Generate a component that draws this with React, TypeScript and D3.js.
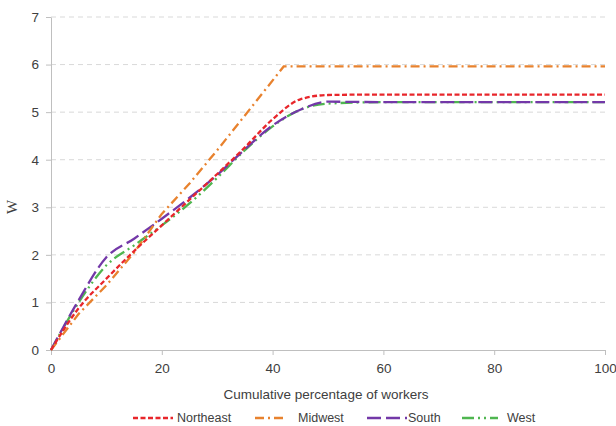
import React, { useEffect, useRef } from "react";
import * as d3 from "d3";

const pct = [0, 5, 10, 15, 20, 25, 30, 35, 40, 45, 50, 60, 70, 80, 90, 100];
const pctMidwest = [0, 5, 10, 15, 20, 25, 30, 35, 42, 50, 60, 70, 80, 90, 100];
const northeast = [0, 0.88, 1.5, 2.08, 2.62, 3.16, 3.7, 4.26, 4.85, 5.27, 5.36, 5.37, 5.37, 5.37, 5.37, 5.37];
const midwest = [0, 0.76, 1.36, 2.05, 2.86, 3.5, 4.2, 4.93, 5.96, 5.96, 5.96, 5.96, 5.96, 5.96, 5.96];
const south = [0, 1.05, 1.95, 2.34, 2.76, 3.2, 3.68, 4.22, 4.72, 5.05, 5.22, 5.21, 5.21, 5.21, 5.21, 5.21];
const west = [0, 1.0, 1.78, 2.2, 2.62, 3.08, 3.62, 4.2, 4.7, 5.05, 5.18, 5.21, 5.21, 5.21, 5.21, 5.21];

const seriesNames = ["Northeast", "Midwest", "South", "West"];
const seriesX = [pct, pctMidwest, pct, pct];
const seriesValues = [northeast, midwest, south, west];
const colors = ["#e8262b", "#e8822e", "#7338a8", "#4fb650"];
const dashes = ["5,2.5", "9,4,2,4", "14,5", "12,4,2,4,2,4"];

const xTicks = [0, 20, 40, 60, 80, 100];
const yTicks = [0, 1, 2, 3, 4, 5, 6, 7];

export default function App() {
  const ref = useRef<SVGSVGElement>(null);

  useEffect(() => {
    const svg = d3.select(ref.current);
    svg.selectAll("*").remove();

    const left = 51, right = 605, top = 17, bottom = 350;
    const x = d3.scaleLinear().domain([0, 100]).range([left, right]);
    const y = d3.scaleLinear().domain([0, 7]).range([bottom, top]);
    const font = "Liberation Sans, Arial, sans-serif";

    // gridlines
    svg.append("g").selectAll("line").data(yTicks.filter(d => d > 0)).join("line")
      .attr("x1", left).attr("x2", right)
      .attr("y1", d => y(d)).attr("y2", d => y(d))
      .attr("stroke", "#d9d9d9").attr("stroke-width", 1)
      .attr("stroke-dasharray", "5,4");

    // axes
    const yAxis = svg.append("g").attr("transform", `translate(${left},0)`)
      .call(d3.axisLeft(y).tickValues(yTicks).tickSize(5).tickSizeOuter(0).tickFormat(d3.format("d")));
    const xAxis = svg.append("g").attr("transform", `translate(0,${bottom})`)
      .call(d3.axisBottom(x).tickValues(xTicks).tickSize(5).tickSizeOuter(0).tickFormat(d3.format("d")));
    [yAxis, xAxis].forEach(a => {
      a.select(".domain").attr("stroke", "#bfbfbf");
      a.selectAll(".tick line").attr("stroke", "#bfbfbf");
      a.selectAll(".tick text").attr("fill", "#404040").style("font-size", "13.5px").style("font-family", font);
    });
    yAxis.selectAll(".tick text").attr("x", -12);
    xAxis.selectAll(".tick text").attr("y", 13);

    // lines
    const order = [3, 2, 1, 0];
    order.forEach(i => {
      const xs = seriesX[i];
      const line = d3.line<number>().x((_, j) => x(xs[j])).y(d => y(d))
        .curve(i === 1 ? d3.curveLinear : d3.curveMonotoneX);
      svg.append("path").datum(seriesValues[i])
        .attr("d", line)
        .attr("fill", "none")
        .attr("stroke", colors[i])
        .attr("stroke-width", 2.3)
        .attr("stroke-dasharray", dashes[i]);
    });

    // axis titles
    svg.append("text").attr("x", 326).attr("y", 399)
      .attr("text-anchor", "middle").style("font-size", "13.5px").style("font-family", font)
      .attr("fill", "#404040").text("Cumulative percentage of workers");
    svg.append("text").attr("transform", "translate(17,207) rotate(-90)")
      .attr("text-anchor", "middle").style("font-size", "15px").style("font-family", "Liberation Serif, serif")
      .attr("fill", "#404040").text("W");

    // legend
    const legendX = [133, 255, 367, 462];
    const sampleW = [40, 32, 40, 36];
    const textX = [177, 298, 408, 507];
    const lg = svg.append("g");
    seriesNames.forEach((name, i) => {
      lg.append("line").attr("x1", legendX[i]).attr("x2", legendX[i] + sampleW[i])
        .attr("y1", 418).attr("y2", 418)
        .attr("stroke", colors[i]).attr("stroke-width", 2.3).attr("stroke-dasharray", dashes[i]);
      lg.append("text").attr("x", textX[i]).attr("y", 422)
        .style("font-size", "12.5px").style("font-family", font).attr("fill", "#404040").text(name);
    });
  }, []);

  return (
    <svg ref={ref} width={616} height={426} style={{ display: "block", position: "absolute", left: 0, top: 0, background: "#fff" }} />
  );
}
